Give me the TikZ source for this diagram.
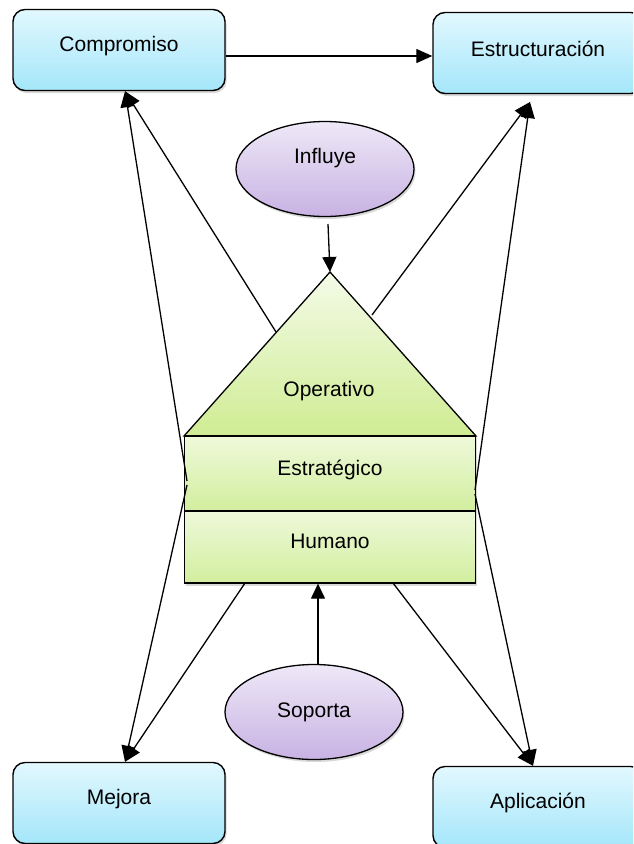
\documentclass[tikz,border=0pt]{standalone}
\usepackage{fontspec}
\setmainfont{Liberation Sans}
\usetikzlibrary{arrows.meta,shapes.geometric,shadows}

\definecolor{boxtop}{HTML}{E2F8FE}
\definecolor{boxbot}{HTML}{A4E6FA}
\definecolor{ovtop}{HTML}{EEE8F7}
\definecolor{ovbot}{HTML}{C8B2E3}
\definecolor{tritop}{HTML}{F4FBE8}
\definecolor{tribot}{HTML}{CFEC93}
\definecolor{rectop}{HTML}{EEF9DA}
\definecolor{recbot}{HTML}{D2EE9E}

\newcommand{\lbl}{\fontsize{21}{25}\selectfont}

\begin{document}
\begin{tikzpicture}[x=1pt,y=-1pt,
  softshadow/.style={drop shadow={opacity=0.3,shadow xshift=1.5pt,shadow yshift=-2.5pt}},
  txt/.style={font=\lbl,inner sep=0pt},
  box/.style={draw=black,line width=1.4pt,rounded corners=12pt,
    top color=boxtop,bottom color=boxbot,minimum width=212pt,minimum height=81pt,
    inner sep=0pt,softshadow,label={[txt,yshift=4pt]center:#1}},
  oval/.style={ellipse,draw=black,line width=1.3pt,top color=ovtop,bottom color=ovbot,
    minimum width=178pt,minimum height=95pt,inner sep=0pt,softshadow,font=\lbl},
  layer/.style={rectangle,draw=black,line width=1.3pt,top color=rectop,bottom color=recbot,
    minimum width=291pt,inner sep=0pt,softshadow},
  conn/.style={line width=1.3pt},
  arr/.style={conn,-{Triangle[length=16pt,width=14pt]}},
  sarr/.style={conn,-{Triangle[length=15pt,width=14pt]}}
]
\clip (0,0) rectangle (633,844);

% outer boxes
\node[box=Compromiso] (comp) at (119,50) {};
\node[box=Estructuración,minimum width=210pt] (estr) at (538,53) {};
\node[box=Mejora] (mej) at (119,803) {};
\node[box=Aplicación,minimum width=210pt] (apl) at (538,807) {};

% influence and support ovals
\node[oval,label={[txt,yshift=11pt]center:Influye}] (infl) at (325,169) {};
\node[oval] (sop) at (314,712) {Soporta};

% pyramid: roof and two layers
\coordinate (apex) at (330,272);
\coordinate (bl) at (184,436);
\coordinate (br) at (476,436);
\path[draw=black,line width=1.3pt,top color=tritop,bottom color=tribot,softshadow]
  (apex) -- (br) -- (bl) -- cycle;
\node[txt] (oper) at (329,391) {Operativo};
\node[layer,minimum height=75pt,label={[txt,yshift=4pt]center:Estratégico}] (estg) at (330,473.5) {};
\node[layer,minimum height=72pt,label={[txt,yshift=6pt]center:Humano}] (hum) at (330,547) {};

% points where the connectors leave the pyramid
\coordinate (tlft) at (276,332);
\coordinate (trgt) at (372,315);
\coordinate (elft) at (187,481);
\coordinate (elft2) at (187,485);
\coordinate (ergt) at (475,490);
\coordinate (ergt2) at (475,494);
\coordinate (hlft) at (245,583);
\coordinate (hrgt) at (393,583);
\coordinate (etip) at (530,102);
\coordinate (itop) at (328,224);

% connectors
\draw[arr] (comp.east |- 0,56) -- (estr.west |- 0,56);
\draw[arr] (tlft) -- ([xshift=6pt]comp.south);
\draw[arr] (elft) -- ([xshift=6pt]comp.south);
\draw[arr] (trgt) -- (etip);
\draw[arr] (ergt) -- (etip);
\draw[arr] (elft2) -- ([xshift=6pt]mej.north);
\draw[arr] (hlft) -- ([xshift=6pt]mej.north);
\draw[arr] (ergt2) -- ([xshift=-5pt]apl.north);
\draw[arr] (hrgt) -- ([xshift=-5pt]apl.north);
\draw[sarr] (itop) -- (apex);
\draw[sarr] ([xshift=4pt]sop.north) -- ([xshift=-12pt]hum.south);
\end{tikzpicture}
\end{document}
